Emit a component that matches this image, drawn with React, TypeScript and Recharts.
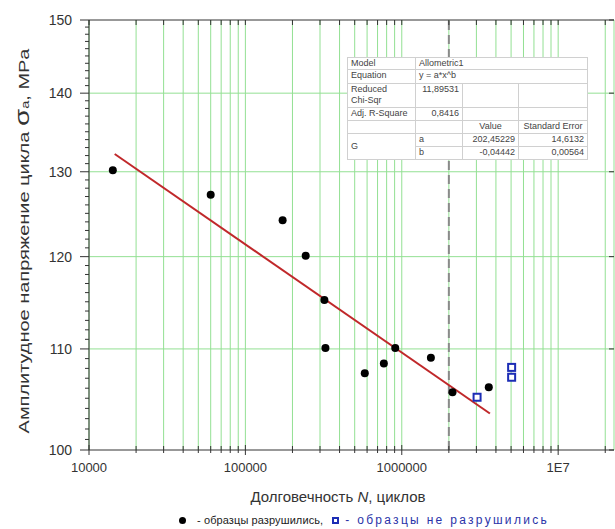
import React from "react"
import { ScatterChart, Scatter, XAxis, YAxis, CartesianGrid, ReferenceLine } from "recharts"

// failed specimens (cycles to failure, stress amplitude MPa)
const failedN = [14200, 60000, 173000, 243000, 320000, 325000, 580000, 768000, 908000, 1535000, 2110000, 3600000]
const failedS = [130.2, 127.2, 124.2, 120.1, 115.2, 110.1, 107.5, 108.5, 110.1, 109.1, 105.6, 106.1]

// run-outs
const runoutN = [3030000, 5040000, 5040000]
const runoutS = [105.1, 108.1, 107.1]

// Allometric1 fit, end points of the drawn segment
const fitN = [14600, 3660000]
const fitS = [132.2, 103.5]

const xTicks = [
  10000, 20000, 30000, 40000, 50000, 60000, 70000, 80000, 90000,
  100000, 200000, 300000, 400000, 500000, 600000, 700000, 800000, 900000,
  1000000, 2000000, 3000000, 4000000, 5000000, 6000000, 7000000, 8000000, 9000000,
  10000000, 20000000,
]
const xMajor = [10000, 100000, 1000000, 10000000]
const xDomain = [10000, 22750000]

const yTicks = Array.from({ length: 51 }, (_, i) => 100 + i)
const yMajor = [100, 110, 120, 130, 140, 150]
const yGrid = [110, 120, 130, 140]
const yDomain = [100, 150]

const failedData = failedN.map((n, i) => ({ n, s: failedS[i] }))
const runoutData = runoutN.map((n, i) => ({ n, s: runoutS[i] }))
const fitData = fitN.map((n, i) => ({ n, s: fitS[i] }))

const FONT = "'Liberation Sans', Arial, sans-serif"
const AXIS = "#333"
const GREEN = "#93e093"

const fmtX = (v: number) => (v >= 10000000 ? "1E7" : String(v))

const BottomTick = (props: any) => {
  const { x, y, payload } = props
  const major = xMajor.includes(payload.value)
  return (
    <g>
      <line x1={x} x2={x} y1={y - (major ? 5 : 4)} y2={y + (major ? 5 : 3)} stroke={AXIS} />
      {major && (
        <text x={x} y={y + 22} textAnchor="middle" fontSize={13} fill="#333" fontFamily={FONT}>
          {fmtX(payload.value)}
        </text>
      )}
    </g>
  )
}

const TopTick = (props: any) => {
  const { x, y } = props
  return <line x1={x} x2={x} y1={y} y2={y + 5} stroke={AXIS} />
}

const LeftTick = (props: any) => {
  const { x, y, payload } = props
  const major = yMajor.includes(payload.value)
  return (
    <g>
      <line x1={x - (major ? 9 : 4)} x2={x} y1={y} y2={y} stroke={AXIS} />
      {major && (
        <text x={x - 17} y={y} dy="0.35em" textAnchor="end" fontSize={14} fill="#333" fontFamily={FONT}>
          {payload.value}
        </text>
      )}
    </g>
  )
}

const RightTick = (props: any) => {
  const { x, y } = props
  return <line x1={x - 5} x2={x} y1={y} y2={y} stroke={AXIS} />
}

const Dot = (props: any) => <circle cx={props.cx} cy={props.cy} r={4} fill="#000" />

const OpenSquare = (props: any) => (
  <rect x={props.cx - 3.5} y={props.cy - 3.5} width={7} height={7} fill="#fff" stroke="#1c2db5" strokeWidth={2} />
)

const NoShape = () => <g />

const td: React.CSSProperties = {
  border: "1px solid #d0d0d0",
  padding: "0 3px",
  verticalAlign: "top",
  whiteSpace: "nowrap",
  overflow: "hidden",
}

function FitTable() {
  return (
    <table
      style={{
        position: "absolute",
        left: 347,
        top: 57,
        width: 240,
        borderCollapse: "collapse",
        tableLayout: "fixed",
        background: "#fff",
        border: "1px solid #999",
        fontFamily: FONT,
        fontSize: 9,
        lineHeight: "11px",
        color: "#444",
      }}
    >
      <colgroup>
        <col style={{ width: 68 }} />
        <col style={{ width: 47 }} />
        <col style={{ width: 56 }} />
        <col style={{ width: 69 }} />
      </colgroup>
      <tbody>
        <tr style={{ height: 12 }}>
          <td style={td}>Model</td>
          <td style={td} colSpan={3}>Allometric1</td>
        </tr>
        <tr style={{ height: 14 }}>
          <td style={td}>Equation</td>
          <td style={td} colSpan={3}>y = a*x^b</td>
        </tr>
        <tr style={{ height: 24 }}>
          <td style={td}>Reduced<br />Chi-Sqr</td>
          <td style={{ ...td, textAlign: "right" }}>11,89531</td>
          <td style={td}></td>
          <td style={td}></td>
        </tr>
        <tr style={{ height: 13 }}>
          <td style={td}>Adj. R-Square</td>
          <td style={{ ...td, textAlign: "right" }}>0,8416</td>
          <td style={td}></td>
          <td style={td}></td>
        </tr>
        <tr style={{ height: 13 }}>
          <td style={td}></td>
          <td style={td}></td>
          <td style={{ ...td, textAlign: "center" }}>Value</td>
          <td style={{ ...td, textAlign: "center" }}>Standard Error</td>
        </tr>
        <tr style={{ height: 13 }}>
          <td style={{ ...td, verticalAlign: "middle" }} rowSpan={2}>G</td>
          <td style={td}>a</td>
          <td style={{ ...td, textAlign: "right" }}>202,45229</td>
          <td style={{ ...td, textAlign: "right" }}>14,6132</td>
        </tr>
        <tr style={{ height: 13 }}>
          <td style={td}>b</td>
          <td style={{ ...td, textAlign: "right" }}>-0,04442</td>
          <td style={{ ...td, textAlign: "right" }}>0,00564</td>
        </tr>
      </tbody>
    </table>
  )
}

export default function App() {
  return (
    <div
      style={{
        position: "absolute",
        left: 0,
        top: 0,
        width: 615,
        height: 529,
        overflow: "hidden",
        background: "#fff",
        fontFamily: FONT,
      }}
    >
      <ScatterChart width={615} height={529} margin={{ top: 19, right: 0, bottom: 78, left: 88 }}>
        <CartesianGrid horizontal={false} stroke={GREEN} />
        {yGrid.map((v) => (
          <ReferenceLine key={v} y={v} stroke={GREEN} />
        ))}
        <ReferenceLine x={2000000} stroke="#8a8a8a" strokeWidth={2} strokeDasharray="9 5" />
        <XAxis
          dataKey="n"
          type="number"
          scale="log"
          domain={xDomain}
          allowDataOverflow
          ticks={xTicks}
          interval={0}
          height={1}
          tickSize={0}
          tickMargin={0}
          tickLine={false}
          tick={<BottomTick />}
          axisLine={{ stroke: AXIS }}
        />
        <XAxis
          xAxisId="top"
          orientation="top"
          dataKey="n"
          type="number"
          scale="log"
          domain={xDomain}
          allowDataOverflow
          ticks={xTicks}
          interval={0}
          height={1}
          tickSize={0}
          tickMargin={0}
          tickLine={false}
          tick={<TopTick />}
          axisLine={{ stroke: AXIS }}
        />
        <YAxis
          dataKey="s"
          type="number"
          scale="log"
          domain={yDomain}
          allowDataOverflow
          ticks={yTicks}
          interval={0}
          width={1}
          tickSize={0}
          tickMargin={0}
          tickLine={false}
          tick={<LeftTick />}
          axisLine={{ stroke: AXIS }}
        />
        <YAxis
          yAxisId="right"
          orientation="right"
          dataKey="s"
          type="number"
          scale="log"
          domain={yDomain}
          allowDataOverflow
          ticks={yMajor}
          interval={0}
          width={1}
          tickSize={0}
          tickMargin={0}
          tickLine={false}
          tick={<RightTick />}
          axisLine={false}
        />
        <Scatter
          data={fitData}
          line={{ stroke: "#c0282a", strokeWidth: 2 }}
          shape={NoShape}
          isAnimationActive={false}
        />
        <Scatter data={failedData} shape={Dot} isAnimationActive={false} />
        <Scatter data={runoutData} shape={OpenSquare} isAnimationActive={false} />
      </ScatterChart>

      <FitTable />

      <div
        style={{
          position: "absolute",
          left: -178,
          top: 231,
          width: 400,
          height: 20,
          lineHeight: "20px",
          transform: "rotate(-90deg) scaleX(1.33)",
          textAlign: "center",
          whiteSpace: "nowrap",
          fontSize: 15,
          color: "#333",
        }}
      >
        Амплитудное напряжение цикла <span style={{ fontSize: 21 }}>σ</span>
        <span style={{ fontSize: 11 }}>a</span>, MPa
      </div>

      <div
        style={{
          position: "absolute",
          left: 0,
          width: 676,
          top: 488,
          lineHeight: "18px",
          textAlign: "center",
          fontSize: 15,
          color: "#333",
        }}
      >
        Долговечность <i>N</i>, циклов
      </div>

      <div style={{ position: "absolute", left: 179, top: 513, fontSize: 11, lineHeight: "14px", whiteSpace: "nowrap" }}>
        <span style={{ display: "inline-block", width: 7, height: 7, borderRadius: 4, background: "#000", marginRight: 11 }} />
        <span style={{ color: "#222", letterSpacing: 0.1 }}>- образцы разрушились,</span>
        <span
          style={{
            display: "inline-block",
            width: 3,
            height: 3,
            border: "2px solid #1c2db5",
            marginLeft: 9,
            marginRight: 6,
          }}
        />
        <span style={{ color: "#2a33a8", fontSize: 12, letterSpacing: 2.3 }}>- образцы не разрушились</span>
      </div>
    </div>
  )
}
